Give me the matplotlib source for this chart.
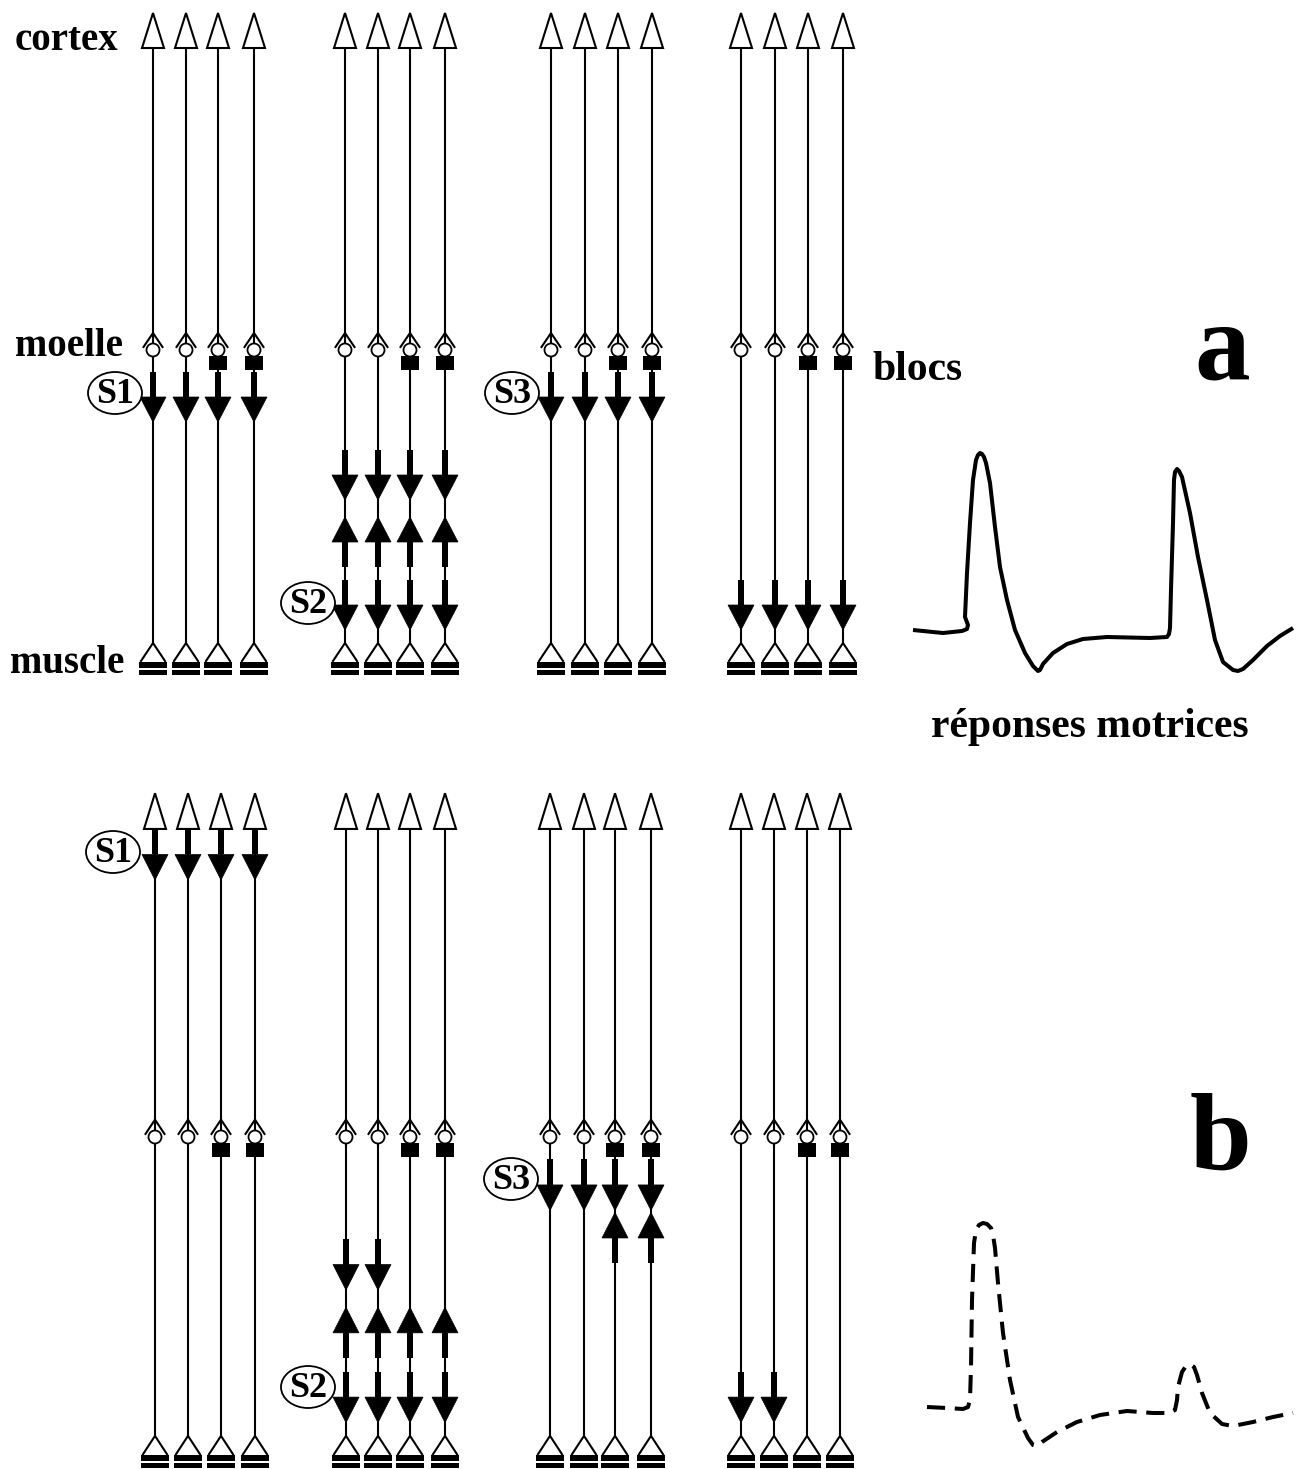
import matplotlib
matplotlib.use('Agg')
import matplotlib.pyplot as plt
from matplotlib.patches import Polygon, Rectangle, Circle, Ellipse

# ---- layout data (pixel coordinates, y downward) ----
line_x_top = [[153, 186, 218, 254], [345, 378, 410, 445], [551, 585, 618, 652], [741, 775, 808, 843]]
line_x_bottom = [[155, 188, 221, 255], [346, 378, 410, 445], [550, 584, 615, 651], [741, 774, 807, 840]]
blocked_lines = [2, 3]

# arrow events: (group, lines, y in panel coords)
down_arrows_top = [(0, [0, 1, 2, 3], 372), (1, [0, 1, 2, 3], 450), (1, [0, 1, 2, 3], 580),
                   (2, [0, 1, 2, 3], 372), (3, [0, 1, 2, 3], 580)]
up_arrows_top = [(1, [0, 1, 2, 3], 517)]
down_arrows_bottom = [(0, [0, 1, 2, 3], 48), (1, [0, 1], 450), (1, [0, 1, 2, 3], 580),
                      (2, [0, 1, 2, 3], 372), (3, [0, 1], 580)]
up_arrows_bottom = [(1, [0, 1, 2, 3], 517), (2, [2, 3], 424)]

stim_labels = ['S1', 'S2', 'S3']
stim_top = [(115, 393), (308, 603), (512, 393)]
stim_bottom = [(113, 852), (308, 1387), (511, 1179)]

# motor responses
trace_a_x = [913, 943, 962, 967, 968, 965, 967, 970, 973, 976, 978, 980, 982, 984, 986, 990, 995,
             1000, 1007, 1015, 1025, 1033, 1038, 1040, 1043, 1053, 1067, 1083, 1107, 1150, 1167,
             1169, 1170, 1171, 1173, 1174, 1175, 1177, 1179, 1182, 1190, 1198, 1207, 1215, 1223,
             1233, 1238, 1243, 1253, 1267, 1280, 1293]
trace_a_y = [630, 633, 631, 629, 625, 617, 573, 523, 480, 460, 455, 453, 454, 457, 463, 483, 527,
             567, 600, 630, 653, 666, 671, 670, 664, 653, 644, 639, 637, 638, 637,
             634, 628, 590, 523, 480, 472, 469, 471, 477, 513, 557, 600, 640, 662,
             670, 671, 669, 660, 646, 636, 628]
trace_b_x = [927, 947, 963, 968, 970, 971, 972, 974, 976, 979, 983, 987, 991, 993, 995, 998, 1003,
             1010, 1018, 1028, 1033, 1037, 1042, 1057, 1077, 1100, 1127, 1153, 1170, 1175, 1177,
             1178, 1182, 1186, 1190, 1194, 1197, 1202, 1210, 1222, 1233, 1253, 1273, 1293]
trace_b_y = [1407, 1408, 1409, 1407, 1400, 1367, 1300, 1243, 1230, 1225, 1223, 1224, 1228, 1235,
             1248, 1283, 1333, 1380, 1417, 1438, 1445, 1446, 1442, 1432, 1422, 1415, 1411, 1413,
             1413, 1410, 1400, 1387, 1372, 1366, 1364, 1367, 1375, 1393, 1413, 1424, 1426, 1422,
             1417, 1413]

W, H = 1297, 1469
fig = plt.figure(figsize=(W / 100, H / 100), dpi=100)
ax = fig.add_axes([0, 0, 1, 1])
ax.set_xlim(0, W)
ax.set_ylim(H, 0)
ax.axis('off')

LW = 1.5
serif = dict(family='Liberation Serif', weight='bold', color='black')


def ymap(y, panel):
    return y if panel == 0 else 780 + 1.02 * y


def draw_neuron(x, panel, blocked):
    Y = lambda v: ymap(v, panel)
    # axon
    ax.plot([x, x], [Y(48), Y(643)], color='black', lw=LW, solid_capstyle='butt', zorder=1)
    # cortex cell body (open triangle)
    ax.add_patch(Polygon([(x - 11, Y(48)), (x, Y(13)), (x + 11, Y(48))], closed=True,
                         facecolor='white', edgecolor='black', lw=LW, zorder=3))
    # spinal synapse
    ax.plot([x - 9.5, x, x + 9.5], [Y(347), Y(333), Y(347)], color='black', lw=LW, zorder=3)
    ax.add_patch(Circle((x, Y(350)), 6.5, facecolor='white', edgecolor='black', lw=1.3, zorder=4))
    if blocked:
        ax.add_patch(Rectangle((x - 9, Y(356)), 18, Y(370) - Y(356), facecolor='black',
                               edgecolor='none', zorder=5))
    # muscle
    ax.plot([x - 12, x, x + 12], [Y(661), Y(643), Y(661)], color='black', lw=LW, zorder=3)
    ax.add_patch(Rectangle((x - 14, Y(662)), 28, 5.5, facecolor='black', edgecolor='none', zorder=3))
    ax.add_patch(Rectangle((x - 14, Y(669.5)), 28, 5.5, facecolor='black', edgecolor='none', zorder=3))


def down_arrow(x, y0, panel):
    Y = lambda v: ymap(v, panel)
    ax.add_patch(Rectangle((x - 2.6, Y(y0)), 5.2, Y(y0 + 25) - Y(y0), facecolor='black',
                           edgecolor='none', zorder=6))
    ax.add_patch(Polygon([(x - 13, Y(y0 + 25)), (x + 13, Y(y0 + 25)), (x, Y(y0 + 50))],
                         closed=True, facecolor='black', edgecolor='black', lw=0.5, zorder=6))


def up_arrow(x, apex, panel):
    Y = lambda v: ymap(v, panel)
    ax.add_patch(Polygon([(x, Y(apex)), (x - 13, Y(apex + 25)), (x + 13, Y(apex + 25))],
                         closed=True, facecolor='black', edgecolor='black', lw=0.5, zorder=6))
    ax.add_patch(Rectangle((x - 2.6, Y(apex + 25)), 5.2, Y(apex + 50) - Y(apex + 25),
                           facecolor='black', edgecolor='none', zorder=6))


panels = [
    (line_x_top, down_arrows_top, up_arrows_top, stim_top),
    (line_x_bottom, down_arrows_bottom, up_arrows_bottom, stim_bottom),
]
for p, (xs, downs, ups, stims) in enumerate(panels):
    for g in range(4):
        for i, x in enumerate(xs[g]):
            draw_neuron(x, p, i in blocked_lines)
    for g, lines, y0 in downs:
        for i in lines:
            down_arrow(xs[g][i], y0, p)
    for g, lines, apex in ups:
        for i in lines:
            up_arrow(xs[g][i], apex, p)
    for label, (cx, cy) in zip(stim_labels, stims):
        ax.add_patch(Ellipse((cx, cy), 54, 42, facecolor='white', edgecolor='black', lw=1.3, zorder=7))
        ax.text(cx, cy + 1.5, label, ha='center', va='center', fontsize=26, zorder=8, **serif)

# labels
ax.text(15, 50, 'cortex', ha='left', va='baseline', fontsize=28, **serif)
ax.text(15, 356, 'moelle', ha='left', va='baseline', fontsize=28, **serif)
ax.text(10, 673, 'muscle', ha='left', va='baseline', fontsize=28, **serif)
ax.text(872, 380, 'blocs', ha='left', va='baseline', fontsize=30, **serif)
ax.text(1090, 737, 'réponses motrices', ha='center', va='baseline', fontsize=30, **serif)
ax.text(1222, 378, 'a', ha='center', va='baseline', fontsize=80, **serif)
ax.text(1220, 1170, 'b', ha='center', va='baseline', fontsize=80, **serif)

# motor responses
ax.plot(trace_a_x, trace_a_y, color='black', lw=2.9, solid_joinstyle='round',
        solid_capstyle='butt')
ax.plot(trace_b_x, trace_b_y, color='black', lw=2.9, linestyle=(0, (4.5, 2.4)),
        dash_joinstyle='round')

fig.savefig('out.png', dpi=100)
